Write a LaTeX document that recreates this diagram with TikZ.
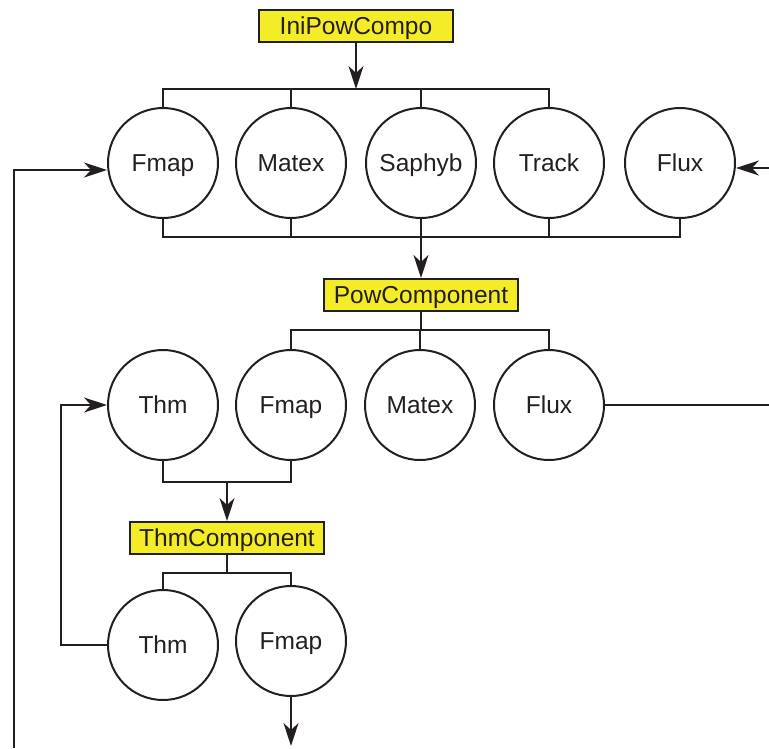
\documentclass[tikz,border=0pt]{standalone}
\usepackage{fontspec}
\setmainfont{Liberation Sans}
\usetikzlibrary{arrows.meta}
\definecolor{boxyellow}{RGB}{245,236,40}
\definecolor{ink}{RGB}{35,31,32}
\begin{document}
\begin{tikzpicture}[x=1pt,y=-1pt,
  wire/.style={line width=2pt,draw=ink},
  comp/.style={circle,draw=ink,line width=2pt,minimum size=110pt,inner sep=0pt,font=\fontsize{24.5}{27}\selectfont,text=ink,text height=17.5pt,text depth=0pt},
  lab/.style={rectangle,draw=ink,line width=2pt,fill=boxyellow,minimum width=194pt,minimum height=32pt,inner sep=0pt,font=\fontsize{24.5}{27}\selectfont,text=ink,text height=17.5pt,text depth=0pt},
  arr/.style={wire,-{Stealth[length=23pt,width=15pt,inset=7pt]}}]
\path[use as bounding box] (0,0) rectangle (769,748);
% nodes
\node[lab] (ini) at (356,26) {IniPowCompo};
\node[comp] (f1) at (163,163) {Fmap};
\node[comp] (m1) at (291,163) {Matex};
\node[comp] (s1) at (421,163) {Saphyb};
\node[comp] (t1) at (549,163) {Track};
\node[comp] (x1) at (680,163) {Flux};
\node[lab] (pow) at (421,295) {PowComponent};
\node[comp] (h2) at (163,405) {Thm};
\node[comp] (f2) at (291,405) {Fmap};
\node[comp] (m2) at (420,405) {Matex};
\node[comp] (x2) at (549,405) {Flux};
\node[lab] (thc) at (227,538) {ThmComponent};
\node[comp] (h3) at (163,645) {Thm};
\node[comp] (f3) at (291,641) {Fmap};
% bus coordinates and free ends
\coordinate (b1) at (0,89);
\coordinate (b2) at (0,237);
\coordinate (b3) at (0,330);
\coordinate (b4) at (0,482);
\coordinate (b5) at (0,573);
\coordinate (rightin) at (769,168);
\coordinate (rightout) at (769,405);
\coordinate (leftbot) at (14,748);
\coordinate (leftturn) at (14,170);
\coordinate (fbot) at (291,746);
\coordinate (thmloop) at (61,645);
% top bus
\draw[arr] (ini.south) -- (ini.south |- b1);
\draw[wire] (f1.north) -- (f1.north |- b1) -| (t1.north);
\draw[wire] (m1.north) -- (m1.north |- b1);
\draw[wire] (s1.north) -- (s1.north |- b1);
% bottom bus row 1
\draw[wire] (f1.south) -- (f1.south |- b2) -| (x1.south);
\draw[wire] (m1.south) -- (m1.south |- b2);
\draw[wire] (t1.south) -- (t1.south |- b2);
\draw[arr] (s1.south) -- (pow.north);
% pow bus
\draw[wire] (pow.south) -- (pow.south |- b3);
\draw[wire] (f2.north) -- (f2.north |- b3) -| (x2.north);
\draw[wire] (m2.north) -- (m2.north |- b3);
% row 2 bottom bus
\draw[wire] (h2.south) -- (h2.south |- b4) -| (f2.south);
\draw[arr] (thc.north |- b4) -- (thc.north);
% thm bus
\draw[wire] (thc.south) -- (thc.south |- b5);
\draw[wire] (h3.north) -- (h3.north |- b5) -| (f3.north);
% loops
\draw[arr] (f3.south) -- (fbot);
\draw[arr] (h3.west) -- (thmloop) |- (h2.west);
\draw[arr] (leftbot) -- (leftturn) -- (f1.west |- leftturn);
\draw[arr] (rightin) -- (x1.east |- rightin);
\draw[wire] (x2.east) -- (rightout);
\end{tikzpicture}
\end{document}
